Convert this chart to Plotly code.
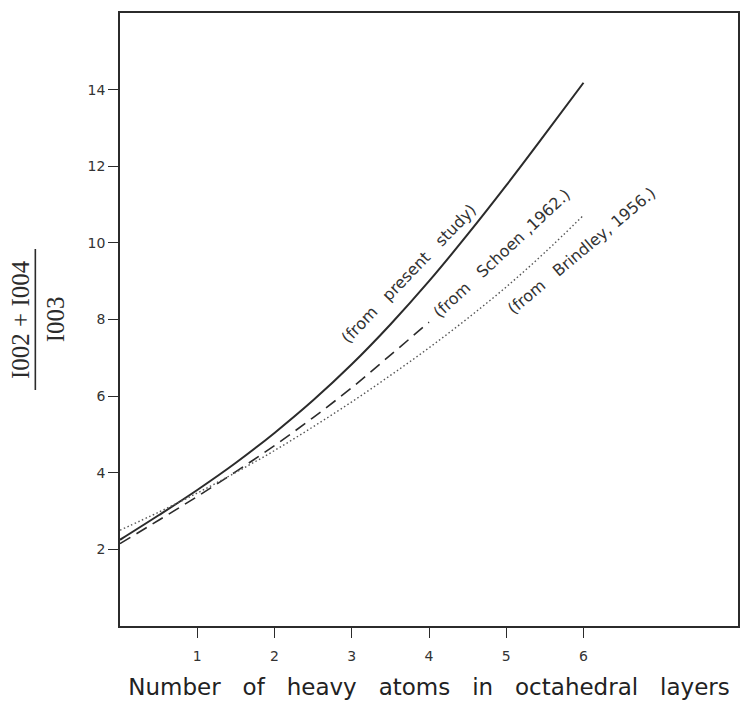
import plotly.graph_objects as go

# ---- data ----
x_present = [0, 0.5, 1, 1.5, 2, 2.5, 3, 3.5, 4, 4.5, 5, 5.5, 6]
y_present = [2.25, 2.89, 3.55, 4.26, 5.04, 5.89, 6.83, 7.87, 9.0, 10.22, 11.5, 12.83, 14.18]

x_schoen = [0, 0.5, 1, 1.5, 2, 2.5, 3, 3.5, 4]
y_schoen = [2.15, 2.76, 3.38, 4.03, 4.71, 5.44, 6.22, 7.07, 7.93]

x_brindley = [0, 0.5, 1, 1.5, 2, 2.5, 3, 3.5, 4, 4.5, 5, 5.5, 6]
y_brindley = [2.5, 2.97, 3.47, 4.01, 4.58, 5.2, 5.85, 6.54, 7.26, 8.03, 8.85, 9.75, 10.72]

x_ticks = [1, 2, 3, 4, 5, 6]
x_tick_labels = ["1", "2", "3", "4", "5", "6"]
y_ticks = [2, 4, 6, 8, 10, 12, 14]
y_tick_labels = ["2", "4", "6", "8", "10", "12", "14"]

G = "\u00a0\u00a0\u00a0"
curve_labels = ["(from" + G + "present" + G + "study)",
                "(from" + G + "Schoen\u00a0,1962.)",
                "(from" + G + "Brindley,\u00a01956.)"]
label_x = [3.74, 4.94, 5.98]
label_y = [9.2, 9.72, 9.8]
label_angle = [-46, -43, -40]

W = "\u00a0\u00a0\u00a0"
x_title = W.join(["Number", "of", "heavy", "atoms", "in", "octahedral", "layers"])

INK = "#2b2b2b"
FONT = "DejaVu Sans"

fig = go.Figure()
fig.add_trace(go.Scatter(x=x_present, y=y_present, mode="lines",
                         line=dict(color=INK, width=2, shape="spline", smoothing=1.0),
                         showlegend=False, hoverinfo="skip"))
fig.add_trace(go.Scatter(x=x_schoen, y=y_schoen, mode="lines",
                         line=dict(color=INK, width=1.6, dash="12px,7px", shape="spline", smoothing=1.0),
                         showlegend=False, hoverinfo="skip"))
fig.add_trace(go.Scatter(x=x_brindley, y=y_brindley, mode="lines",
                         line=dict(color="#555555", width=1.4, dash="1.5px,2.5px", shape="spline", smoothing=1.0),
                         showlegend=False, hoverinfo="skip"))

for t, lx, ly, ang in zip(curve_labels, label_x, label_y, label_angle):
    fig.add_annotation(x=lx, y=ly, xref="x", yref="y", text=t, textangle=ang,
                       showarrow=False, font=dict(family=FONT, size=16, color="#333333"),
                       xanchor="center", yanchor="middle")

# y-axis title as a fraction
fig.add_annotation(xref="paper", yref="paper", x=-0.161, y=0.50,
                   text="I002 + I004", textangle=-90, showarrow=False,
                   font=dict(family="Liberation Serif", size=25, color="#2b2b2b"),
                   xanchor="center", yanchor="middle")
fig.add_annotation(xref="paper", yref="paper", x=-0.104, y=0.50,
                   text="I003", textangle=-90, showarrow=False,
                   font=dict(family="Liberation Serif", size=25, color="#2b2b2b"),
                   xanchor="center", yanchor="middle")
fig.add_shape(type="line", xref="paper", yref="paper",
              x0=-0.137, x1=-0.137, y0=0.385, y1=0.615,
              line=dict(color="#2b2b2b", width=1.6))

fig.update_layout(
    width=744, height=715, autosize=False,
    margin=dict(l=120, r=4, t=13, b=89),
    paper_bgcolor="white", plot_bgcolor="white",
    font=dict(family=FONT, color=INK),
)
fig.update_xaxes(range=[0, 8], tickvals=x_ticks, ticktext=x_tick_labels,
                 ticks="outside", ticklen=10, tickwidth=1.2, tickcolor=INK,
                 showline=True, linecolor=INK, linewidth=1.5, mirror=True,
                 showgrid=False, zeroline=False, ticklabelstandoff=6,
                 tickfont=dict(family=FONT, size=14, color="#333333"),
                 title=dict(text=x_title, font=dict(family=FONT, size=23, color="#222222"), standoff=16))
fig.update_yaxes(range=[0, 16], tickvals=y_ticks, ticktext=y_tick_labels,
                 ticks="outside", ticklen=10, tickwidth=1.2, tickcolor=INK,
                 showline=True, linecolor=INK, linewidth=1.5, mirror=True,
                 showgrid=False, zeroline=False,
                 tickfont=dict(family=FONT, size=14, color="#333333"))

fig.write_html("out.html", config={"displayModeBar": False},
               post_script="document.body.style.margin='0';")
